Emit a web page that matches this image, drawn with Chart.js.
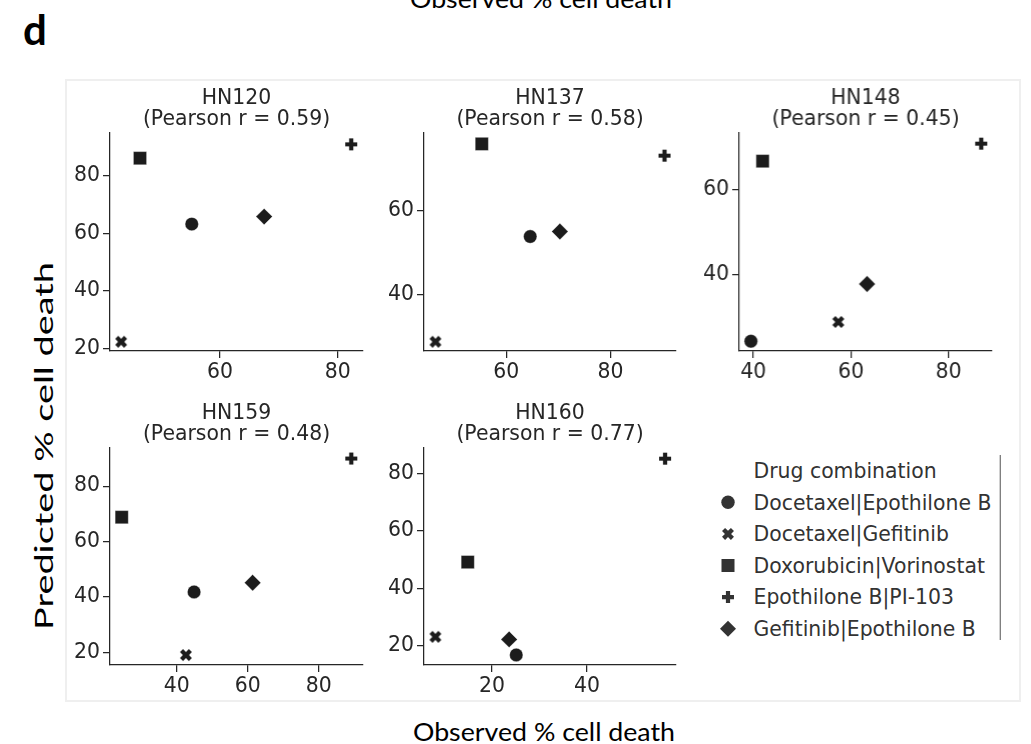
<!DOCTYPE html>
<html>
<head>
<meta charset="utf-8">
<script src="https://cdn.jsdelivr.net/npm/chart.js@4.4.1/dist/chart.umd.min.js"></script>
<style>
  html, body { margin: 0; padding: 0; background: #fff; }
  body { width: 1031px; height: 744px; position: relative; overflow: hidden; }
  .panel { position: absolute; }
  #overlay { position: absolute; left: 0; top: 0; }
</style>
</head>
<body>
<svg id="overlay" width="1031" height="744" xmlns="http://www.w3.org/2000/svg"></svg>
<script>
// ---------------- DATA ----------------
const cellLines = ['HN120', 'HN137', 'HN148', 'HN159', 'HN160'];
const pearsonR = ['0.59', '0.58', '0.45', '0.48', '0.77'];
const drugCombos = ['Docetaxel|Epothilone B', 'Docetaxel|Gefitinib', 'Doxorubicin|Vorinostat', 'Epothilone B|PI-103', 'Gefitinib|Epothilone B'];

const observedHN120  = [55.2, 43.2, 46.4, 82.3, 67.5];
const predictedHN120 = [63.2, 22.3, 86.1, 90.9, 65.8];
const observedHN137  = [64.6, 46.4, 55.3, 90.4, 70.3];
const predictedHN137 = [53.8, 28.7, 75.9, 73.1, 55.0];
const observedHN148  = [39.5, 57.4, 41.9, 86.7, 63.3];
const predictedHN148 = [24.5, 29.0, 66.7, 70.8, 37.9];
const observedHN159  = [44.9, 42.6, 24.5, 89.2, 61.4];
const predictedHN159 = [41.8, 19.0, 68.8, 90.0, 45.1];
const observedHN160  = [25.1, 8.1, 14.9, 56.4, 23.6];
const predictedHN160 = [16.9, 23.2, 49.2, 85.2, 22.3];

const xTicksHN120 = [60, 80];     const yTicksHN120 = [20, 40, 60, 80];
const xTicksHN137 = [60, 80];     const yTicksHN137 = [40, 60];
const xTicksHN148 = [40, 60, 80]; const yTicksHN148 = [40, 60];
const xTicksHN159 = [40, 60, 80]; const yTicksHN159 = [20, 40, 60, 80];
const xTicksHN160 = [20, 40];     const yTicksHN160 = [20, 40, 60, 80];

const observedByLine  = [observedHN120, observedHN137, observedHN148, observedHN159, observedHN160];
const predictedByLine = [predictedHN120, predictedHN137, predictedHN148, predictedHN159, predictedHN160];
const xTicksByLine = [xTicksHN120, xTicksHN137, xTicksHN148, xTicksHN159, xTicksHN160];
const yTicksByLine = [yTicksHN120, yTicksHN137, yTicksHN148, yTicksHN159, yTicksHN160];

// ---------------- LAYOUT / STYLE ----------------
const panelRects = [ // plot-area rectangles [left, top, right, bottom]
  [110, 133, 363, 351],
  [424.3, 133, 676, 351],
  [739.3, 133, 991.7, 351],
  [110, 447.7, 362.7, 665],
  [424.3, 447.7, 676, 665]
];
const axisRanges = [ // [xmin, xmax, ymin, ymax]
  [41.3, 84.3, 19.1, 94.85],
  [44.2, 92.6, 26.5, 78.5],
  [37.1, 88.9, 22.2, 73.3],
  [21.2, 92.5, 15.4, 93.8],
  [5.7, 58.7, 13.4, 88.9]
];
const INK = '#262626';
const MARK = '#1c1c1c';
const FONT = 'DejaVu Sans';
const FS = 20.4;
const LEFT = 80, TOP = 60, RIGHT = 30, BOTTOM = 50;
const TITLE_LH = 1.06;
const titleLinePx = FS * TITLE_LH;
const titlePadBottom = 2.2;
const titlePadTop = TOP - 2 * titleLinePx - titlePadBottom;

// filled plus / filled x marker images (matplotlib-like 'P' and 'X')
function plusPoints(a, t, rot) {
  const pts = [[-t,-a],[t,-a],[t,-t],[a,-t],[a,t],[t,t],[t,a],[-t,a],[-t,t],[-a,t],[-a,-t],[-t,-t]];
  const c = Math.cos(rot), s = Math.sin(rot);
  return pts.map(([x, y]) => [x * c - y * s, x * s + y * c]);
}
function markerCanvas(pts, fill) {
  const S = 20;
  const cv = document.createElement('canvas');
  cv.width = S; cv.height = S;
  const ctx = cv.getContext('2d');
  ctx.translate(S / 2, S / 2);
  ctx.beginPath();
  pts.forEach(([x, y], k) => k ? ctx.lineTo(x, y) : ctx.moveTo(x, y));
  ctx.closePath();
  ctx.fillStyle = fill;
  ctx.fill();
  return cv;
}
const plusShape = plusPoints(6.0, 2.1, 0);
const xShape = plusPoints(6.3, 2.15, Math.PI / 4);
const plusImg = markerCanvas(plusShape, MARK);
const xImg = markerCanvas(xShape, MARK);

const markerStyles = ['circle', xImg, 'rect', plusImg, 'rectRot'];
const markerRadii  = [6.7, 7, 9.3, 7, 8.2];

Chart.defaults.font.family = FONT;
Chart.defaults.color = INK;

cellLines.forEach((name, p) => {
  const [L, T, R, B] = panelRects[p];
  const [xmin, xmax, ymin, ymax] = axisRanges[p];
  const W = (R - L) + LEFT + RIGHT;
  const H = (B - T) + TOP + BOTTOM;
  const div = document.createElement('div');
  div.className = 'panel';
  div.style.left = (L - LEFT) + 'px';
  div.style.top = (T - TOP) + 'px';
  div.style.width = W + 'px';
  div.style.height = H + 'px';
  const canvas = document.createElement('canvas');
  canvas.width = Math.round(W);
  canvas.height = Math.round(H);
  canvas.style.width = W + 'px';
  canvas.style.height = H + 'px';
  div.appendChild(canvas);
  document.body.appendChild(div);

  const obs = observedByLine[p], pred = predictedByLine[p];
  const datasets = drugCombos.map((combo, i) => ({
    label: combo,
    data: [{ x: obs[i], y: pred[i] }],
    pointStyle: markerStyles[i],
    pointRadius: markerRadii[i],
    pointHoverRadius: markerRadii[i],
    backgroundColor: MARK,
    borderColor: 'rgba(255,255,255,0.7)',
    pointBorderWidth: 0.5
  }));
  const xt = xTicksByLine[p], yt = yTicksByLine[p];
  const axisCommon = {
    type: 'linear',
    grid: { display: true, drawOnChartArea: false, drawTicks: true, tickLength: 7, color: INK, lineWidth: 1.25 },
    border: { display: true, color: INK, width: 1.25 },
  };
  new Chart(canvas, {
    type: 'scatter',
    data: { datasets },
    options: {
      responsive: false,
      animation: false,
      devicePixelRatio: 1,
      layout: { padding: { left: 0, top: 0, right: RIGHT, bottom: 0 } },
      plugins: {
        legend: { display: false },
        tooltip: { enabled: false },
        title: {
          display: true,
          fullSize: false,
          text: [name, '(Pearson r = ' + pearsonR[p] + ')'],
          color: INK,
          font: { family: FONT, size: FS, weight: 'normal', lineHeight: TITLE_LH },
          padding: { top: titlePadTop, bottom: titlePadBottom }
        }
      },
      scales: {
        x: Object.assign({}, axisCommon, {
          min: xmin, max: xmax,
          afterBuildTicks: s => { s.ticks = xt.map(v => ({ value: v })); },
          afterFit: s => { s.height = BOTTOM; s.paddingLeft = 0; s.paddingRight = 0; },
          ticks: { autoSkip: false, maxRotation: 0, padding: 2, color: INK, font: { family: FONT, size: FS } }
        }),
        y: Object.assign({}, axisCommon, {
          min: ymin, max: ymax,
          afterBuildTicks: s => { s.ticks = yt.map(v => ({ value: v })); },
          afterFit: s => { s.width = LEFT; s.paddingTop = 0; s.paddingBottom = 0; },
          ticks: { autoSkip: false, padding: 3, color: INK, font: { family: FONT, size: FS } }
        })
      }
    }
  });
});

// ---------------- OVERLAY: frame, outer labels, legend ----------------
const NS = 'http://www.w3.org/2000/svg';
const svg = document.getElementById('overlay');
function el(tag, attrs, text) {
  const e = document.createElementNS(NS, tag);
  for (const k in attrs) e.setAttribute(k, attrs[k]);
  if (text !== undefined) e.textContent = text;
  svg.appendChild(e);
  return e;
}
el('rect', { x: 66, y: 80, width: 954, height: 621, fill: 'none', stroke: '#efefef', 'stroke-width': 2 });
const OUTER_FONT = 'Lato, "Open Sans", sans-serif';
el('text', { x: 410, y: 8, 'font-family': OUTER_FONT, 'font-size': 25, fill: '#000', textLength: 262, lengthAdjust: 'spacingAndGlyphs' }, 'Observed % cell death');
el('text', { x: 23, y: 45, 'font-family': OUTER_FONT, 'font-size': 42, 'font-weight': 'bold', fill: '#000' }, 'd');
el('text', { x: 413, y: 740.5, 'font-family': OUTER_FONT, 'font-size': 25, fill: '#000', textLength: 262, lengthAdjust: 'spacingAndGlyphs' }, 'Observed % cell death');
el('text', { x: 0, y: 0, transform: 'translate(53,446) rotate(-90)', 'text-anchor': 'middle', 'font-family': OUTER_FONT, 'font-size': 25, fill: '#000', textLength: 368, lengthAdjust: 'spacingAndGlyphs' }, 'Predicted % cell death');

// legend
el('line', { x1: 1000.3, y1: 455, x2: 1000.3, y2: 640, stroke: '#7a7a7a', 'stroke-width': 1.3 });
const LEG_X = 753.5, LEG_MX = 728;
const legTitleBase = 478, legStep = 31.6;
const LEG_INK = '#333';
el('text', { x: LEG_X, y: legTitleBase, 'font-family': FONT, 'font-size': FS, fill: LEG_INK }, 'Drug combination');
function polyStr(pts, cx, cy) { return pts.map(([x, y]) => (cx + x) + ',' + (cy + y)).join(' '); }
drugCombos.forEach((combo, i) => {
  const base = legTitleBase + legStep * (i + 1);
  const cy = base - 7.3;
  if (i === 0) el('circle', { cx: LEG_MX, cy, r: 6.7, fill: LEG_INK });
  else if (i === 1) el('polygon', { points: polyStr(xShape, LEG_MX, cy), fill: LEG_INK });
  else if (i === 2) el('rect', { x: LEG_MX - 6.5, y: cy - 6.5, width: 13, height: 13, fill: LEG_INK });
  else if (i === 3) el('polygon', { points: polyStr(plusShape, LEG_MX, cy), fill: LEG_INK });
  else el('polygon', { points: `${LEG_MX - 8},${cy} ${LEG_MX},${cy - 8} ${LEG_MX + 8},${cy} ${LEG_MX},${cy + 8}`, fill: LEG_INK });
  el('text', { x: LEG_X, y: base, 'font-family': FONT, 'font-size': FS, fill: LEG_INK }, combo);
});
</script>
</body>
</html>
